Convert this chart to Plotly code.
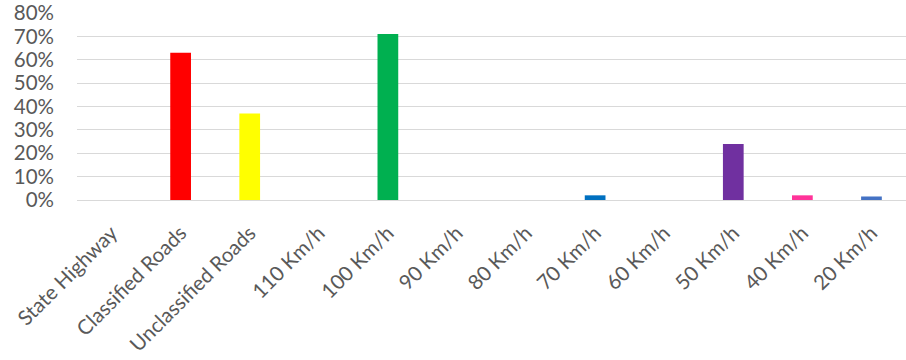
import plotly.graph_objects as go

categories = ["State Highway", "Classified Roads", "Unclassified Roads", "110 Km/h",
              "100 Km/h", "90 Km/h", "80 Km/h", "70 Km/h", "60 Km/h", "50 Km/h",
              "40 Km/h", "20 Km/h"]
values = [0.0, 0.63, 0.37, 0.0, 0.71, 0.0, 0.0, 0.02, 0.0, 0.24, 0.02, 0.015]
colors = ["#4472C4", "#FF0000", "#FFFF00", "#4472C4", "#00B050", "#4472C4", "#4472C4",
          "#0070C0", "#4472C4", "#7030A0", "#FF3399", "#4472C4"]
y_ticks = [0, 0.1, 0.2, 0.3, 0.4, 0.5, 0.6, 0.7, 0.8]
y_labels = ["0%", "10%", "20%", "30%", "40%", "50%", "60%", "70%", "80%"]

fig = go.Figure(go.Bar(x=categories, y=values, marker=dict(color=colors, line=dict(width=0)),
                       width=0.3))
fig.update_layout(
    width=906, height=360,
    margin=dict(l=77, r=0, t=13, b=160),
    plot_bgcolor="white", paper_bgcolor="white",
    font=dict(family="Lato, Open Sans, sans-serif", size=20.5, color="#595959"),
    showlegend=False,
)
fig.update_yaxes(range=[0, 0.8], tickvals=y_ticks, ticktext=y_labels,
                 showgrid=True, gridcolor="#D9D9D9", gridwidth=1, zeroline=False,
                 showline=False, ticks="", ticklabelstandoff=22)
fig.update_xaxes(tickangle=-45, showgrid=False, showline=True, linecolor="#D9D9D9",
                 ticks="", range=[-0.5, 11.5], ticklabelstandoff=12)
fig.write_html("out.html")
